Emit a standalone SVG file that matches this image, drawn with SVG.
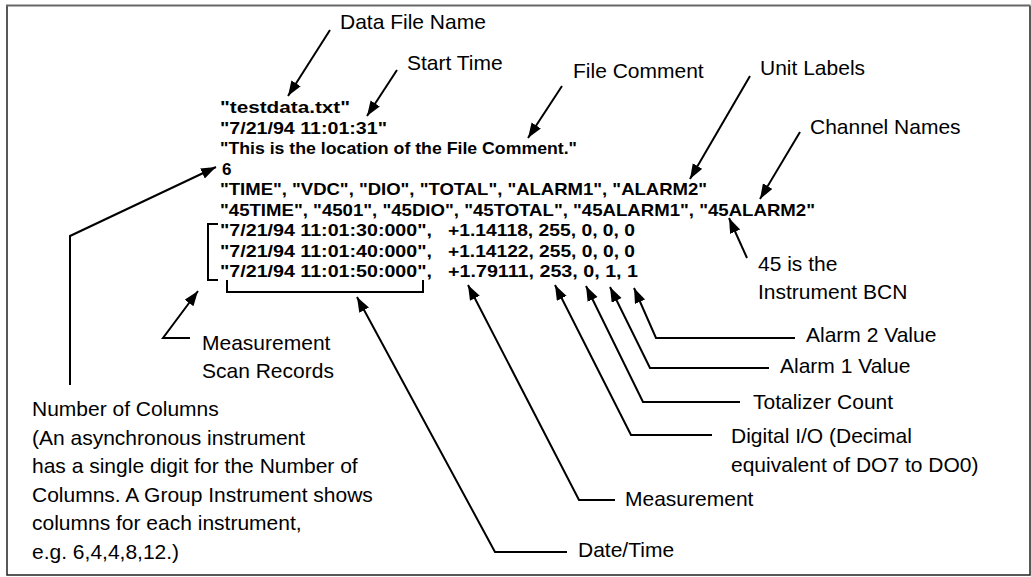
<svg xmlns="http://www.w3.org/2000/svg" width="1031" height="577" viewBox="0 0 1031 577">
<defs>
<marker id="ah" markerUnits="userSpaceOnUse" markerWidth="16" markerHeight="12" refX="15" refY="5.5" orient="auto"><path d="M0,0 L15,5.5 L0,11 z" fill="#000"/></marker>
</defs>
<style>
.lbl{font-family:"Liberation Sans",Arial,sans-serif;font-size:21px;fill:#000}
.code{font-family:"Liberation Sans",Arial,sans-serif;font-size:17px;font-weight:bold;fill:#000}
.ln{fill:none;stroke:#000;stroke-width:2}
.arr{fill:none;stroke:#000;stroke-width:2;marker-end:url(#ah)}
.frame{fill:none;stroke:#222;stroke-width:1.5}
</style>
<rect x="0" y="0" width="1031" height="577" fill="#fff"/>
<g id="frame">
<path class="frame" d="M7,6 V575 H1030 V6"/>
<line x1="6" y1="5.5" x2="1030.5" y2="5.5" stroke="#666" stroke-width="2"/>
</g>

<g id="data-file">
<text class="code" x="220" y="113" textLength="130" lengthAdjust="spacingAndGlyphs">"testdata.txt"</text>
<text class="code" x="220" y="133.5" textLength="167" lengthAdjust="spacingAndGlyphs">"7/21/94 11:01:31"</text>
<text class="code" x="220" y="154" textLength="357" lengthAdjust="spacingAndGlyphs">"This is the location of the File Comment."</text>
<text class="code" x="222" y="174.5">6</text>
<text class="code" x="220" y="195" textLength="487" lengthAdjust="spacingAndGlyphs">"TIME", "VDC", "DIO", "TOTAL", "ALARM1", "ALARM2"</text>
<text class="code" x="220" y="215.5" textLength="595" lengthAdjust="spacingAndGlyphs">"45TIME", "4501", "45DIO", "45TOTAL", "45ALARM1", "45ALARM2"</text>
<text class="code" x="220" y="236" textLength="212" lengthAdjust="spacingAndGlyphs">"7/21/94 11:01:30:000",</text>
<text class="code" x="448" y="236" textLength="187" lengthAdjust="spacingAndGlyphs">+1.14118, 255, 0, 0, 0</text>
<text class="code" x="220" y="256.5" textLength="212" lengthAdjust="spacingAndGlyphs">"7/21/94 11:01:40:000",</text>
<text class="code" x="448" y="256.5" textLength="187" lengthAdjust="spacingAndGlyphs">+1.14122, 255, 0, 0, 0</text>
<text class="code" x="220" y="277" textLength="212" lengthAdjust="spacingAndGlyphs">"7/21/94 11:01:50:000",</text>
<text class="code" x="448" y="277" textLength="190" lengthAdjust="spacingAndGlyphs">+1.79111, 253, 0, 1, 1</text>
</g>

<g id="lbl-data-file-name"><text class="lbl" x="340" y="29">Data File Name</text></g>
<g id="lbl-start-time"><text class="lbl" x="407" y="70">Start Time</text></g>
<g id="lbl-file-comment"><text class="lbl" x="573" y="78">File Comment</text></g>
<g id="lbl-unit-labels"><text class="lbl" x="760" y="75">Unit Labels</text></g>
<g id="lbl-channel-names"><text class="lbl" x="810" y="134">Channel Names</text></g>
<g id="lbl-bcn"><text class="lbl" x="758" y="271">45 is the</text><text class="lbl" x="758" y="299">Instrument BCN</text></g>
<g id="lbl-scan-records"><text class="lbl" x="202" y="350">Measurement</text><text class="lbl" x="202" y="378">Scan Records</text></g>
<g id="lbl-num-columns">
<text class="lbl" x="32" y="416">Number of Columns</text>
<text class="lbl" x="32" y="444.5">(An asynchronous instrument</text>
<text class="lbl" x="32" y="473">has a single digit for the Number of</text>
<text class="lbl" x="32" y="501.5">Columns. A Group Instrument shows</text>
<text class="lbl" x="32" y="530">columns for each instrument,</text>
<text class="lbl" x="32" y="558.5">e.g. 6,4,4,8,12.)</text>
</g>
<g id="lbl-alarm2"><text class="lbl" x="806" y="342">Alarm 2 Value</text></g>
<g id="lbl-alarm1"><text class="lbl" x="780" y="373">Alarm 1 Value</text></g>
<g id="lbl-totalizer"><text class="lbl" x="753" y="409">Totalizer Count</text></g>
<g id="lbl-digital"><text class="lbl" x="731" y="443">Digital I/O (Decimal</text><text class="lbl" x="731" y="472">equivalent of DO7 to DO0)</text></g>
<g id="lbl-measurement"><text class="lbl" x="625" y="506">Measurement</text></g>
<g id="lbl-datetime"><text class="lbl" x="578" y="557">Date/Time</text></g>

<g id="connectors">
<path class="ln" d="M218,224 H208 V280 H218"/>
<path class="ln" d="M227,280 V292 H423 V280"/>
<path class="arr" d="M330,30 L288,96"/>
<path class="arr" d="M397,70 L367,116"/>
<path class="arr" d="M562,86 L528,138"/>
<path class="arr" d="M750,76 L690,179"/>
<path class="arr" d="M800,132 L760,199"/>
<path class="arr" d="M747,258 L729,218"/>
<path class="arr" d="M70,385 V236 L216,167"/>
<path class="arr" d="M190,338 H163 L198,291"/>
<path class="arr" d="M567,552 H495 L357,297"/>
<path class="arr" d="M615,500 H579 L468,285"/>
<path class="arr" d="M712,435 H631 L555,285"/>
<path class="arr" d="M740,402 H643 L586,286"/>
<path class="arr" d="M769,368 H650 L610,287"/>
<path class="arr" d="M795,338 H656 L634,288"/>
</g>
</svg>
